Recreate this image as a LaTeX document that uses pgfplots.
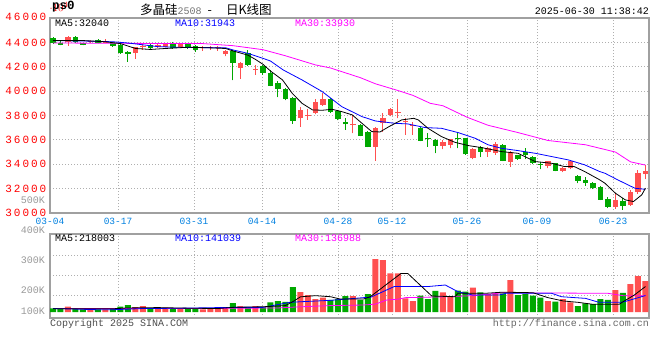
\documentclass[border=0pt]{standalone}
\usepackage{fontspec}
\usepackage{pgfplots}
\pgfplotsset{compat=1.18}
\usepackage{pgfplotstable}
\setmainfont{Liberation Mono}
\newfontfamily\pxfont{Liberation Mono}
\newfontfamily\pxwide[LetterSpace=18]{Liberation Mono}
\newfontfamily\cjk{Noto Sans CJK SC}
\definecolor{cred}{RGB}{255,80,80}
\definecolor{cgreen}{RGB}{0,168,0}
\definecolor{cblue}{RGB}{0,0,255}
\definecolor{cmag}{RGB}{255,0,255}
\definecolor{cdate}{RGB}{0,128,224}
\definecolor{cframe}{RGB}{160,160,160}
\definecolor{cgrid}{RGB}{175,175,175}

\pgfplotstableread{
i o h l c v
0 44360 44470 43870 43980 31
1 43980 44100 43760 43810 26
2 44000 44500 43730 44470 46
3 44470 44520 43980 44060 26
4 43920 43980 43760 43810 23
5 44000 44200 43950 44140 23
6 44200 44280 43920 43980 23
7 43980 44280 43930 44110 23
8 43920 43980 43650 43700 34
9 43790 43850 43050 43160 46
10 43210 43260 42420 43080 60
11 43100 43650 42640 43600 43
12 43600 43980 43380 43680 51
13 43790 43850 43480 43540 31
14 43620 43840 43550 43760 29
15 43620 43900 43580 43840 37
16 43840 44060 43480 43510 31
17 43620 43950 43580 43840 31
18 43840 43870 43480 43510 31
19 43700 43750 43240 43400 31
20 43510 43700 43320 43650 23
21 43510 43700 43380 43650 34
22 43510 43700 43320 43650 34
23 43020 43380 42860 43300 43
24 43300 43370 40880 42340 77
25 41920 42400 41000 42330 51
26 43100 43380 42100 42150 40
27 41750 42150 41330 41840 51
28 42100 42150 41350 41520 40
29 41480 41700 40400 40450 83
30 40640 40800 39480 40200 94
31 40180 40250 39250 39360 86
32 39440 39500 37310 37550 214
33 37770 38670 37090 38460 171
34 37970 38510 37640 38080 145
35 38240 39330 38100 39110 111
36 38890 39820 38800 39360 123
37 39330 39400 38200 38290 103
38 38400 38450 37600 37720 111
39 37470 37770 36820 37280 137
40 37240 38050 36540 37320 137
41 37230 37300 36280 36350 103
42 36650 36700 35400 35450 154
43 35450 37050 34300 36950 453
44 37360 38180 36680 37770 444
45 38050 38650 37950 38510 330
46 38180 39360 37770 38320 330
47 37480 37770 36410 37560 117
48 37180 37500 36410 37260 94
49 37010 37050 35880 35920 140
50 36150 36540 35450 36070 111
51 35990 36100 34900 35500 180
52 35500 35950 35230 35860 168
53 35590 36100 35300 36080 137
54 36150 36680 35310 36070 183
55 36130 36150 34780 34820 174
56 34490 35300 34400 35260 208
57 35450 35500 34580 35040 168
58 35040 35400 34630 35310 154
59 34960 35860 34770 35670 160
60 35590 35650 34250 34300 160
61 34220 35050 33810 34990 273
62 34770 34800 34350 34440 145
63 35040 35310 34410 34770 154
64 34630 34650 34000 34080 140
65 34050 34220 33590 33970 123
66 33860 34300 33660 34270 94
67 34080 34100 33420 33480 88
68 33480 33760 33350 33730 111
69 33670 34350 33600 34300 83
70 33040 33100 32440 32630 51
71 32720 32930 32220 32500 74
72 32500 32550 31950 32030 68
73 32170 32200 31050 31080 111
74 31130 31350 30400 30530 103
75 30480 31620 30340 31080 188
76 31020 31210 30260 30590 163
77 30640 31900 30600 31760 239
78 31760 33540 31600 33320 308
79 33210 33950 32770 33480 265
}\candles

\pgfplotsset{
  sinabase/.style={
    scale only axis, width=599pt, xmin=-0.4, xmax=79.47,
    axis line style={cframe, line width=1.3pt},
    major tick length=0pt,
    xmajorgrids, ymajorgrids,
    grid style={cgrid, line width=0.8pt, dash pattern=on 1pt off 2pt},
    xtick={-0.4,8.67,18.8,27.87,38,45.2,55.2,64.53,74.67},
    clip=true,
  },
  upf/.style={x filter/.expression={\thisrow{c}>=\thisrow{o} ? x : nan}},
  dnf/.style={x filter/.expression={\thisrow{c}<\thisrow{o} ? x : nan}},
  nomk/.style={only marks, mark size=0pt, mark options={draw=none, fill=none}, forget plot},
}

\begin{document}
\begin{tikzpicture}
\useasboundingbox (0pt,0pt) rectangle (660pt,-360pt);

% ---------- price panel ----------
\begin{axis}[sinabase,
  at={(50pt,-18pt)}, anchor=north west, height=195pt,
  ymin=30000, ymax=46000,
  ytick={30000,32000,34000,36000,38000,40000,42000,44000,46000},
  yticklabels={30000,32000,34000,36000,38000,40000,42000,44000,},
  yticklabel style={font=\fontsize{11}{11}\pxwide, text=red, inner sep=0pt, anchor=east, xshift=-3.5pt},
  xticklabels={03-04,03-17,03-31,04-14,04-28,05-12,05-26,06-09,06-23},
  xticklabel style={font=\fontsize{9.5}{9.5}\pxfont, text=cdate, inner sep=0pt, anchor=north, yshift=-5pt},
]
% wicks
\addplot[nomk, upf,
  error bars/.cd, y dir=plus, y explicit, error mark=none,
  error bar style={draw=cred, line width=1pt, solid}]
  table[x=i, y=l, y error plus expr=\thisrow{h}-\thisrow{l}] {\candles};
\addplot[nomk, dnf,
  error bars/.cd, y dir=plus, y explicit, error mark=none,
  error bar style={draw=cgreen, line width=1pt, solid}]
  table[x=i, y=l, y error plus expr=\thisrow{h}-\thisrow{l}] {\candles};
% bodies
\addplot[nomk, upf,
  error bars/.cd, y dir=plus, y explicit, error mark=none,
  error bar style={draw=cred, line width=5.8pt, solid}]
  table[x=i, y=o, y error plus expr=\thisrow{c}-\thisrow{o}] {\candles};
\addplot[nomk, dnf,
  error bars/.cd, y dir=plus, y explicit, error mark=none,
  error bar style={draw=cgreen, line width=5.8pt, solid}]
  table[x=i, y=c, y error plus expr=\thisrow{o}-\thisrow{c}] {\candles};
% MA lines
\addplot[cmag, line width=0.8pt] coordinates {(0,43950)(10,43920)(20,43900)(24,43730)(28,43400)(31,42900)(35,42150)(37,41900)(41,41100)(43,40600)(46,40050)(48,39650)(50.3,39000)(52,38800)(55.2,37860)(58,37200)(62,36600)(66,35950)(71,35600)(73,35300)(75,35000)(77,34200)(79,33930)};
\addplot[cblue, line width=0.8pt] coordinates {(0,44150)(5,44100)(8,44050)(10,43950)(12,43800)(14,43650)(18,43580)(23,43560)(24,43380)(26,43100)(28,42690)(29,42470)(30.7,41736)(33.2,40920)(35.9,39960)(38.5,38730)(41.2,37910)(43,37550)(45.6,37360)(47.3,37310)(49.6,37010)(51.8,36950)(54,36600)(56.3,36130)(58,35600)(59.8,35310)(62,35120)(64.3,34900)(66.5,34630)(68.7,34360)(70.9,33950)(72.9,33400)(73.6,33260)(75.3,32720)(77.6,32030)(79,31943)};
\addplot[black, line width=0.8pt] coordinates {(0,44150)(4,44150)(7,44050)(9,43900)(11,43500)(13,43420)(15,43500)(18,43600)(21,43550)(23,43500)(24,43300)(26,42950)(27,42600)(28,42200)(29,41650)(30.6,40920)(31.9,39820)(33.2,39000)(34.6,38460)(35.9,38430)(37.2,38510)(38.5,38320)(39.9,38050)(41.2,37360)(42.5,36680)(43.6,36650)(44.8,37090)(46.5,37640)(48.1,37770)(48.7,37640)(50,36950)(51.8,36270)(53.6,35800)(55.4,35530)(57.3,35350)(59.8,35040)(62,34900)(64.3,34220)(66.5,34080)(68.2,33810)(69.5,33810)(70.9,33400)(72.9,32720)(73.6,32440)(75,31620)(76.3,31080)(77.4,30940)(78.5,31490)(79,32040)};
\end{axis}

% ---------- volume panel ----------
\begin{axis}[sinabase,
  at={(50pt,-234pt)}, anchor=north west, height=84pt,
  ymin=-51, ymax=667,
  ytick={145,316,488}, yticklabels={},
  xticklabels={},
]
\addplot[ybar, bar width=6pt, bar shift=0pt, fill=cred, draw=none, forget plot, upf]
  table[x=i, y=v] {\candles};
\addplot[ybar, bar width=6pt, bar shift=0pt, fill=cgreen, draw=none, forget plot, dnf]
  table[x=i, y=v] {\candles};
\addplot[cmag, line width=0.8pt] coordinates {(0,30)(20,30)(30,35)(33,45)(37,55)(41.4,60)(43,68)(44.5,103)(46,110)(47,123)(52,130)(56,140)(60,165)(74,160)(76,140)(79,140)};
\addplot[cblue, line width=0.8pt] coordinates {(0,30)(6,20)(8,20)(12,30)(16,32)(24,40)(28,40)(31.6,83)(33,88)(37,100)(41.4,123)(42.3,125)(45.5,218)(50,218)(52.3,231)(54,174)(56,145)(59.5,145)(60.4,160)(66.5,160)(67.8,131)(71,117)(72.8,83)(75.8,83)(76.5,94)(79,141)};
\addplot[black, line width=0.8pt] coordinates {(0,28)(8,28)(10,35)(14,38)(18,33)(22,30)(24,40)(28,45)(31,55)(32,90)(33,130)(35,140)(37,131)(38.3,111)(41.4,111)(42.3,131)(46.4,330)(47.3,330)(50.5,137)(53.6,131)(54,160)(57.6,160)(60,170)(64,165)(66,123)(68,95)(70,83)(72,66)(75.5,66)(76,88)(77.5,145)(79,218)};
\end{axis}

% ---------- texts ----------
\node[anchor=east, inner sep=0pt, text=red] at (46.5pt,-17pt) {\fontsize{11}{11}\pxwide 46000};
\node[anchor=west, inner sep=0pt] at (52pt,-7pt) {\fontsize{12.5}{12.5}\pxfont\bfseries ps0};
\node[anchor=west, inner sep=0pt] at (140pt,-10pt) {\fontsize{12.5}{12.5}\cjk 多晶硅{\fontsize{10}{10}\pxfont\color{black!55}2508}\hspace{6pt}-\hspace{14pt}日K线图};
\node[anchor=east, inner sep=0pt] at (649pt,-11pt) {\fontsize{10}{10}\pxfont 2025-06-30 11:38:42};

\node[anchor=west, inner sep=0pt] at (55pt,-23.5pt) {\fontsize{10}{10}\pxfont MA5:32040};
\node[anchor=west, inner sep=0pt, text=cblue] at (175pt,-23.5pt) {\fontsize{10}{10}\pxfont MA10:31943};
\node[anchor=west, inner sep=0pt, text=cmag] at (295pt,-23.5pt) {\fontsize{10}{10}\pxfont MA30:33930};

\node[anchor=east, inner sep=0pt, text=black!40] at (45pt,-200.5pt) {\fontsize{10}{10}\pxfont 500K};

\node[anchor=west, inner sep=0pt] at (55pt,-238.5pt) {\fontsize{10}{10}\pxfont MA5:218003};
\node[anchor=west, inner sep=0pt, text=cblue] at (175pt,-238.5pt) {\fontsize{10}{10}\pxfont MA10:141039};
\node[anchor=west, inner sep=0pt, text=cmag] at (295pt,-238.5pt) {\fontsize{10}{10}\pxfont MA30:136988};

\node[anchor=east, inner sep=0pt, text=black!40] at (45pt,-230pt) {\fontsize{10}{10}\pxfont 400K};
\node[anchor=east, inner sep=0pt, text=black!40] at (45pt,-260pt) {\fontsize{10}{10}\pxfont 300K};
\node[anchor=east, inner sep=0pt, text=black!40] at (45pt,-290pt) {\fontsize{10}{10}\pxfont 200K};
\node[anchor=east, inner sep=0pt, text=black!40] at (45pt,-311pt) {\fontsize{10}{10}\pxfont 100K};

\node[anchor=west, inner sep=0pt, text=black!70] at (50pt,-323.5pt) {\fontsize{10}{10}\pxfont Copyright 2025 SINA.COM};
\node[anchor=east, inner sep=0pt, text=black!60] at (649pt,-324pt) {\fontsize{10}{10}\pxfont http://finance.sina.com.cn};
\end{tikzpicture}
\end{document}
